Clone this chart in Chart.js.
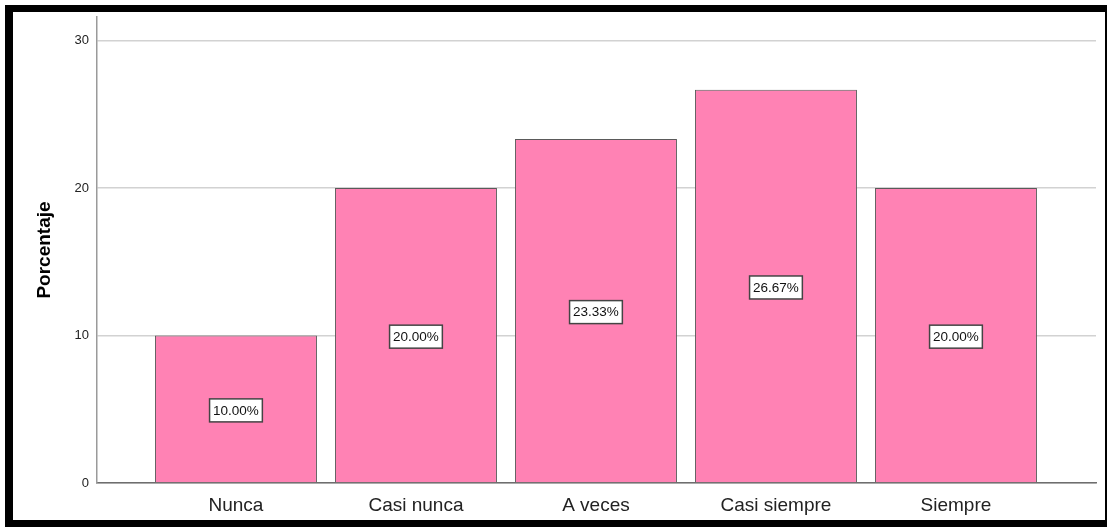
<!DOCTYPE html>
<html lang="es">
<head>
<meta charset="utf-8">
<title>Porcentaje</title>
<script src="https://cdn.jsdelivr.net/npm/chart.js@4.4.1/dist/chart.umd.min.js"></script>
<style>
    html, body { margin: 0; padding: 0; background: #fff; }
    body { width: 1108px; height: 527px; overflow: hidden; position: relative; }
    .frame {
        position: absolute;
        left: 5px; top: 5px;
        width: 1092px; height: 508px;
        border-top: 7px solid #000;
        border-left: 8px solid #000;
        border-bottom: 7px solid #000;
        border-right: 2px solid #000;
    }
    canvas { display: block; }
</style>
</head>
<body>
<div class="frame">
    <canvas id="chart" width="1092" height="508"></canvas>
</div>
<script>
// --- Данные ---
const categories = ['Nunca', 'Casi nunca', 'A veces', 'Casi siempre', 'Siempre'];
const percentValues = [10.00, 20.00, 23.33, 26.67, 20.00];
const yTicks = [0, 10, 20, 30];

const FONT = "'Liberation Sans', Arial, sans-serif";

// Подписи в белых рамках по центру столбцов
const boxLabels = {
    id: 'boxLabels',
    afterDatasetsDraw(chart) {
        const ctx = chart.ctx;
        const meta = chart.getDatasetMeta(0);
        ctx.save();
        ctx.font = '13.5px ' + FONT;
        ctx.textAlign = 'center';
        ctx.textBaseline = 'middle';
        meta.data.forEach((bar, i) => {
            const text = percentValues[i].toFixed(2) + '%';
            const w = ctx.measureText(text).width + 7;
            const h = 23;
            const cx = bar.x;
            const cy = (bar.y + bar.base) / 2 + 1.5;
            ctx.fillStyle = '#fff';
            ctx.fillRect(cx - w / 2, cy - h / 2, w, h);
            ctx.strokeStyle = '#444';
            ctx.lineWidth = 1.5;
            ctx.strokeRect(cx - w / 2, cy - h / 2, w, h);
            ctx.fillStyle = '#111';
            ctx.fillText(text, cx, cy + 0.5);
        });
        ctx.restore();
    }
};

new Chart(document.getElementById('chart'), {
    type: 'bar',
    data: {
        datasets: [{
            data: percentValues.map((v, i) => ({ x: i, y: v })),
            backgroundColor: '#FF82B4',
            borderColor: '#5a5a5a',
            borderWidth: 1,
            barPercentage: 0.9,
            categoryPercentage: 1
        }]
    },
    options: {
        responsive: false,
        animation: false,
        layout: { padding: { top: 5, right: 9, left: 0, bottom: 0 } },
        plugins: { legend: { display: false }, tooltip: { enabled: false } },
        scales: {
            x: {
                type: 'linear',
                offset: false,
                min: -0.772,
                max: 4.778,
                afterBuildTicks: (scale) => {
                    scale.ticks = categories.map((c, i) => ({ value: i }));
                },
                afterFit: (scale) => {
                    scale.height = 37;
                    scale.paddingLeft = 0;
                    scale.paddingRight = 0;
                },
                grid: { display: false, drawTicks: false },
                border: { display: true, color: '#6e6e6e', width: 1.5 },
                ticks: {
                    padding: 11,
                    color: '#222',
                    font: { family: FONT, size: 19 },
                    autoSkip: false,
                    maxRotation: 0,
                    callback: (value) => categories[value] ?? ''
                }
            },
            y: {
                min: 0,
                max: 31.6,
                afterBuildTicks: (scale) => {
                    scale.ticks = yTicks.map(v => ({ value: v }));
                },
                afterFit: (scale) => {
                    scale.width = 84;
                    scale.paddingTop = 0;
                    scale.paddingBottom = 0;
                },
                grid: { color: '#d2d2d2', lineWidth: 1.5, drawTicks: false },
                border: { display: true, color: '#9a9a9a', width: 1.5 },
                ticks: {
                    padding: 8,
                    color: '#222',
                    font: { family: FONT, size: 13 }
                },
                title: {
                    display: true,
                    text: 'Porcentaje',
                    color: '#000',
                    font: { family: FONT, size: 19, weight: 'bold' },
                    padding: { top: 20, bottom: 0 }
                }
            }
        }
    },
    plugins: [boxLabels]
});
</script>
</body>
</html>
